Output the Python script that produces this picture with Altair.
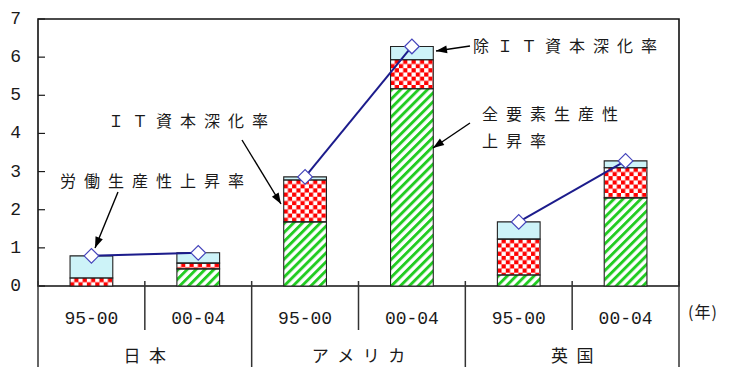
import math
from urllib.parse import quote

import altair as alt
import pandas as pd

# ---- data -------------------------------------------------------------
countries = ["日本", "アメリカ", "英国"]
periods = ["95-00", "00-04"]
tfp_growth = [0.00, 0.45, 1.68, 5.17, 0.29, 2.31]          # 全要素生産性上昇率
it_deepening = [0.21, 0.15, 1.10, 0.76, 0.94, 0.79]        # ＩＴ資本深化率
non_it_deepening = [0.58, 0.27, 0.08, 0.35, 0.45, 0.18]    # 除ＩＴ資本深化率
labour_productivity = [0.79, 0.87, 2.86, 6.28, 1.68, 3.28]  # 労働生産性上昇率
y_ticks = [0, 1, 2, 3, 4, 5, 6, 7]

# ---- layout -----------------------------------------------------------
PLOT_W, PLOT_H = 641, 267
Y_MAX = 7
N = len(countries) * len(periods)
BAR_HALF = 0.2
PX_X = PLOT_W / N
PX_Y = PLOT_H / Y_MAX

JP = "Noto Sans CJK JP"
NUM = "Liberation Mono"
INK = "#1a1a1a"
GREEN = "#22cc22"
RED = "#ff0000"
LIGHT_BLUE = "#cdf3f8"


def spaced(s):
    """Wide letter spacing, as in the original Japanese labels."""
    return "\u2002".join(s)


def pattern_url(kind, w, h):
    """SVG tile filling one bar segment with a hatch or checker pattern."""
    if kind == "tfp":
        pat = ("<pattern id='p' patternUnits='userSpaceOnUse' width='6.3' height='6.3' "
               "patternTransform='rotate(45)'>"
               "<rect width='6.3' height='6.3' fill='#ffffff'/>"
               f"<rect width='2.9' height='6.3' fill='{GREEN}'/></pattern>")
    else:
        c = 4.2
        pat = (f"<pattern id='p' patternUnits='userSpaceOnUse' width='{2*c}' height='{2*c}'>"
               f"<rect width='{2*c}' height='{2*c}' fill='{RED}'/>"
               f"<rect width='{c}' height='{c}' fill='#ffffff'/>"
               f"<rect x='{c}' y='{c}' width='{c}' height='{c}' fill='#ffffff'/></pattern>")
    svg = (f"<svg xmlns='http://www.w3.org/2000/svg' width='{w:.2f}' height='{h:.2f}' "
           f"viewBox='0 0 {w:.2f} {h:.2f}' preserveAspectRatio='none'>"
           f"<defs>{pat}</defs><rect width='100%' height='100%' fill='url(#p)'/></svg>")
    return "data:image/svg+xml;charset=utf-8," + quote(svg)


# stacked segments
rows = []
for i in range(N):
    lo = 0.0
    for kind, vals in (("tfp", tfp_growth), ("it", it_deepening), ("nonit", non_it_deepening)):
        v = vals[i]
        if v > 0:
            hi = lo + v
            rows.append(dict(idx=i, x0=i - BAR_HALF, x1=i + BAR_HALF, lo=lo, hi=hi, kind=kind,
                             url=pattern_url(kind, 2 * BAR_HALF * PX_X, v * PX_Y)))
        lo += v
seg = pd.DataFrame(rows)
seg_pat = seg[seg["kind"] != "nonit"]
seg_blue = seg[seg["kind"] == "nonit"]

line_df = pd.DataFrame({
    "idx": list(range(N)),
    "lp": labour_productivity,
    "country": [c for c in countries for _ in periods],
})

period_df = pd.DataFrame({"idx": list(range(N)), "label": periods * len(countries)})
country_df = pd.DataFrame({
    "idx": [k * len(periods) + (len(periods) - 1) / 2 for k in range(len(countries))],
    "label": [spaced(c) for c in countries],
})
bounds = [i - 0.5 for i in range(N + 1)]
sep_df = pd.DataFrame({
    "b": bounds,
    "long": [round(b + 0.5) % len(periods) == 0 for b in bounds],
})
tick_df = pd.DataFrame({"v": y_ticks})

xs = alt.Scale(domain=[-0.5, N - 0.5], nice=False, zero=False)
ys = alt.Scale(domain=[0, Y_MAX], nice=False, zero=True)

# ---- bars -------------------------------------------------------------
blue = alt.Chart(seg_blue).mark_rect(fill=LIGHT_BLUE).encode(
    x=alt.X("x0:Q", scale=xs, axis=None), x2="x1",
    y=alt.Y("lo:Q", scale=ys, axis=None), y2="hi",
)
patterned = alt.Chart(seg_pat).mark_image(aspect=False).encode(
    x=alt.X("x0:Q", scale=xs, axis=None), x2="x1",
    y=alt.Y("lo:Q", scale=ys, axis=None), y2="hi",
    url="url:N",
)
outline = alt.Chart(seg).mark_rect(fill=None, stroke="#222222", strokeWidth=1.1).encode(
    x=alt.X("x0:Q", scale=xs, axis=None), x2="x1",
    y=alt.Y("lo:Q", scale=ys, axis=None), y2="hi",
)

# inward y ticks and their labels
yticks = alt.Chart(tick_df).mark_rule(color=INK, strokeWidth=1.2).encode(
    x=alt.value(0), x2=alt.value(7),
    y=alt.Y("v:Q", scale=ys, axis=None),
)
ylabels = alt.Chart(tick_df).mark_text(
    font=NUM, fontSize=18, color=INK, align="right", baseline="middle"
).encode(
    x=alt.value(-17),
    y=alt.Y("v:Q", scale=ys, axis=None),
    text="v:Q",
)

# ---- labour productivity line ----------------------------------------
lp_line = alt.Chart(line_df).mark_line(color="#1c1c8c", strokeWidth=2).encode(
    x=alt.X("idx:Q", scale=xs, axis=None),
    y=alt.Y("lp:Q", scale=ys, axis=None),
    detail="country:N",
)
lp_pts = alt.Chart(line_df).mark_point(
    shape="diamond", filled=True, fill="white", stroke="#4444bb", strokeWidth=1.2,
    size=215, opacity=1,
).encode(
    x=alt.X("idx:Q", scale=xs, axis=None),
    y=alt.Y("lp:Q", scale=ys, axis=None),
)

# ---- category axis below the plot ------------------------------------
seps_short = alt.Chart(sep_df[~sep_df["long"]]).mark_rule(color="#333333", strokeWidth=1.5).encode(
    x=alt.X("b:Q", scale=xs, axis=None), y=alt.value(PLOT_H - 5), y2=alt.value(PLOT_H + 44),
)
seps_long = alt.Chart(sep_df[sep_df["long"]]).mark_rule(color="#333333", strokeWidth=1.5).encode(
    x=alt.X("b:Q", scale=xs, axis=None), y=alt.value(PLOT_H - 5), y2=alt.value(PLOT_H + 90),
)
period_text = alt.Chart(period_df).mark_text(
    font=NUM, fontSize=18, color=INK, baseline="middle", align="center"
).encode(x=alt.X("idx:Q", scale=xs, axis=None), y=alt.value(PLOT_H + 33), text="label:N")
country_text = alt.Chart(country_df).mark_text(
    font=JP, fontSize=17, color=INK, baseline="middle", align="center"
).encode(x=alt.X("idx:Q", scale=xs, axis=None), y=alt.value(PLOT_H + 71), text="label:N")

one = pd.DataFrame({"k": [0]})
year_unit = alt.Chart(one).mark_text(
    font=JP, fontSize=16, color=INK, align="left", baseline="middle", text="(\u200a年\u200a)"
).encode(x=alt.value(PLOT_W + 9), y=alt.value(PLOT_H + 27))

# ---- annotations ------------------------------------------------------
notes = [
    ("労働生産性上昇率", 22, 163),
    ("ＩＴ資本深化率", 70, 103),
    ("除ＩＴ資本深化率", 435, 28),
    ("全要素生産性", 444, 96),
    ("上昇率", 444, 123),
]
arrows = [  # tail x, tail y, tip x, tip y
    (80, 173, 57, 229),
    (204, 121, 243, 185),
    (432, 27, 398, 32),
    (432, 104, 395, 129),
]
ARROW_HEAD = "M0,0L0.75,2.1L-0.75,2.1Z"

layers = [blue, patterned, outline, yticks, ylabels, lp_line, lp_pts,
          seps_short, seps_long, period_text, country_text, year_unit]
for txt, x, y in notes:
    layers.append(alt.Chart(one).mark_text(
        font=JP, fontSize=16, color=INK, align="left", baseline="middle", text=spaced(txt)
    ).encode(x=alt.value(x), y=alt.value(y)))
for tx, ty, hx, hy in arrows:
    ang = math.degrees(math.atan2(hx - tx, -(hy - ty))) % 360
    layers.append(alt.Chart(one).mark_rule(color="black", strokeWidth=1.4).encode(
        x=alt.value(tx), y=alt.value(ty), x2=alt.value(hx), y2=alt.value(hy)))
    layers.append(alt.Chart(one).mark_point(
        shape=ARROW_HEAD, filled=True, color="black", opacity=1, size=110, angle=ang
    ).encode(x=alt.value(hx), y=alt.value(hy)))

chart = alt.layer(*layers).properties(
    width=PLOT_W, height=PLOT_H,
    autosize=alt.AutoSizeParams(type="none"),
    padding={"left": 38, "top": 19, "right": 52, "bottom": 81},
    background="white",
).configure_view(stroke="#111111", strokeWidth=1.6)

chart.save("out.html", embed_options={"renderer": "svg", "actions": False})
